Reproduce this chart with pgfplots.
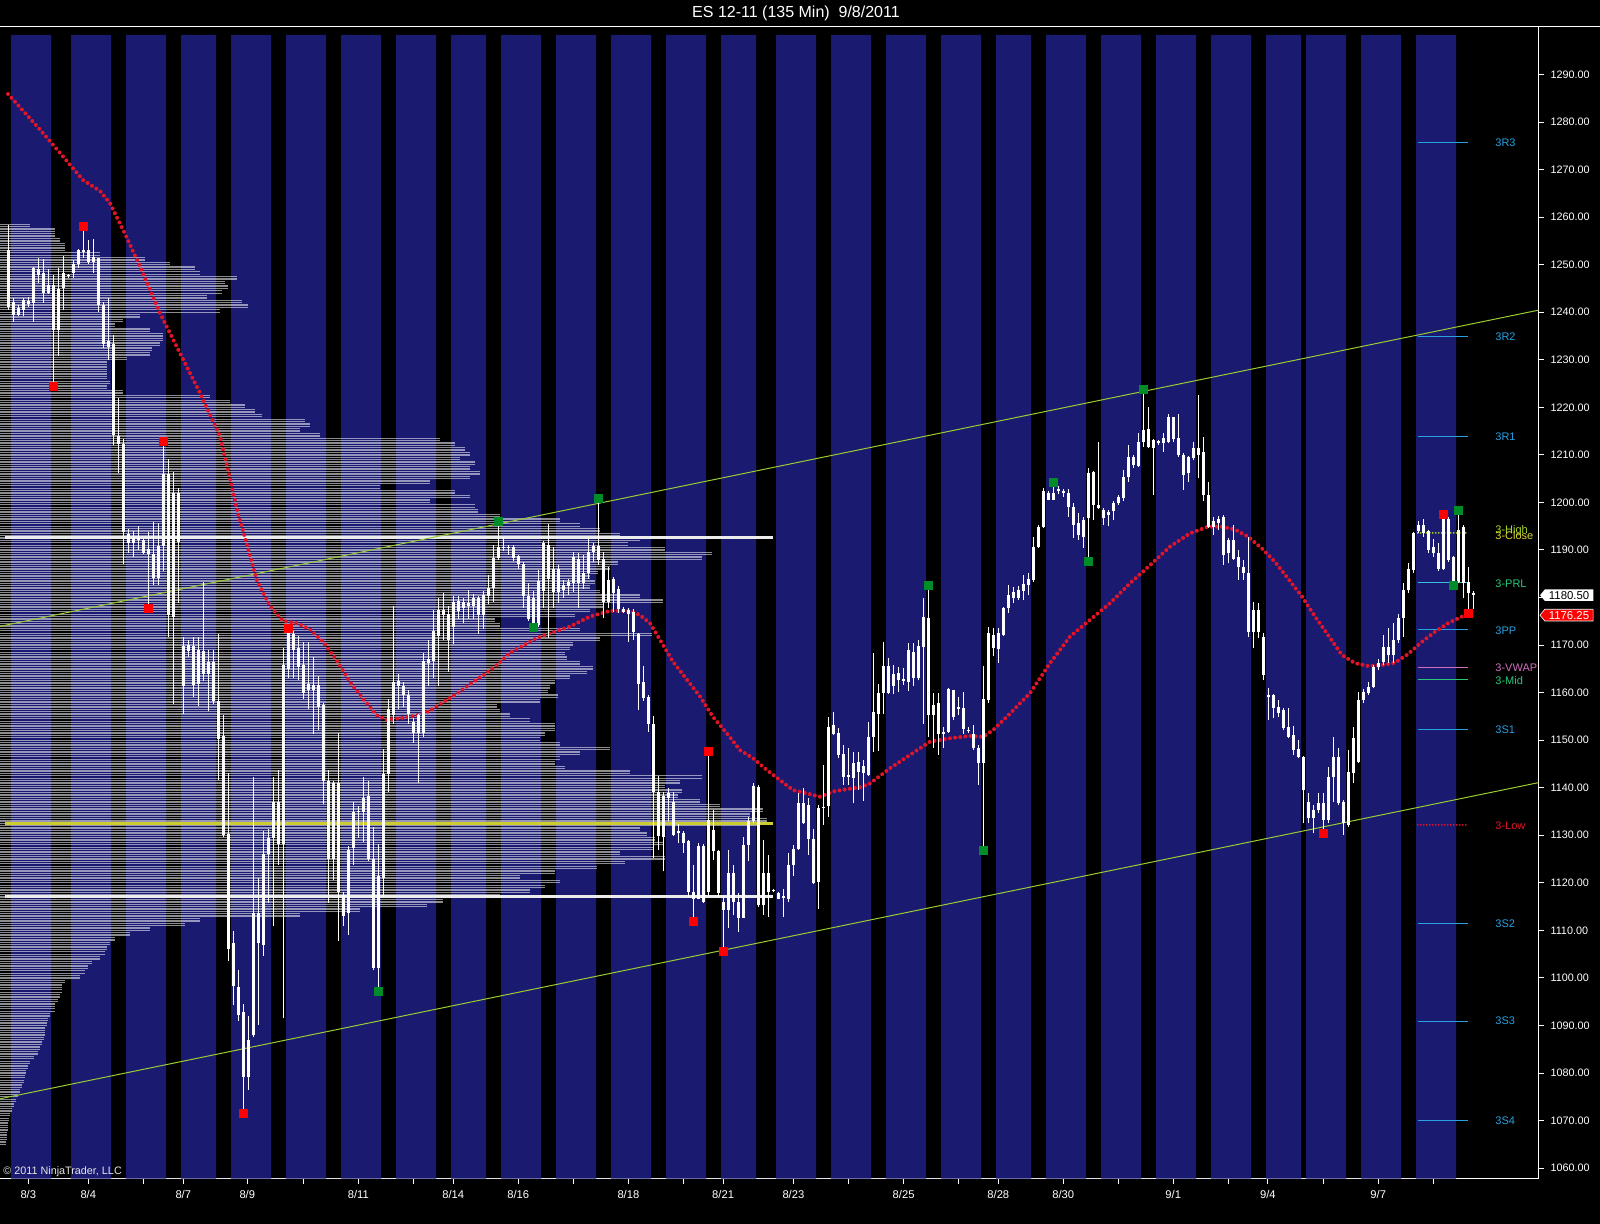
\documentclass[border=0pt]{standalone}
\usepackage{pgfplots}
\pgfplotsset{compat=1.18}
\usepackage{pgfplotstable}
\usepackage{fontspec}
\setmainfont{Liberation Sans}
\usetikzlibrary{shapes.symbols}
\pgfdeclarelayer{bg}
\pgfsetlayers{bg,main}

\definecolor{session}{RGB}{26,26,112}
\definecolor{chan}{RGB}{154,205,50}
\definecolor{marad}{RGB}{225,20,40}
\definecolor{lvlyel}{RGB}{205,205,50}
\definecolor{pivblue}{RGB}{40,160,225}
\definecolor{pivcyan}{RGB}{60,190,220}
\definecolor{pivgreen}{RGB}{40,200,120}
\definecolor{pivpink}{RGB}{210,110,190}
\definecolor{hiyel}{RGB}{170,215,40}
\definecolor{closeyel}{RGB}{215,215,50}
\definecolor{swgreen}{RGB}{0,140,40}

% session shading: start of each session, end of it
\pgfplotstableread{
x v
11 1298.3
51 1057.78
71 1298.3
111 1057.78
126 1298.3
166 1057.78
181 1298.3
216 1057.78
231 1298.3
271 1057.78
286 1298.3
326 1057.78
341 1298.3
381 1057.78
396 1298.3
436 1057.78
451 1298.3
486 1057.78
501 1298.3
541 1057.78
556 1298.3
596 1057.78
611 1298.3
651 1057.78
666 1298.3
706 1057.78
721 1298.3
756 1057.78
776 1298.3
816 1057.78
831 1298.3
871 1057.78
886 1298.3
926 1057.78
941 1298.3
981 1057.78
996 1298.3
1031 1057.78
1046 1298.3
1086 1057.78
1101 1298.3
1141 1057.78
1156 1298.3
1196 1057.78
1211 1298.3
1251 1057.78
1266 1298.3
1301 1057.78
1306 1298.3
1346 1057.78
1361 1298.3
1401 1057.78
1416 1298.3
1456 1057.78
}\sessions

% volume profile: price level, right end of the bar
\pgfplotstableread{
p w
1258 30
1257 55
1256 55
1255 60
1254 65
1253 65
1252 100
1251 145
1250 170
1249 195
1248 200
1247 237
1246 225
1245 228
1244 222
1243 207
1242 242
1241 248
1240 220
1239 140
1238 123
1237 115
1236 150
1235 163
1234 163
1233 160
1232 152
1231 150
1230 127
1229 107
1228 107
1227 107
1226 107
1225 110
1224 107
1223 123
1222 210
1221 230
1220 245
1219 255
1218 262
1217 305
1216 310
1215 300
1214 320
1213 440
1212 455
1211 465
1210 470
1209 460
1208 475
1207 470
1206 480
1205 470
1204 430
1203 380
1202 455
1201 470
1200 430
1199 475
1198 478
1197 500
1196 560
1195 580
1194 600
1193 620
1192 640
1191 628
1190 665
1189 712
1188 702
1187 618
1186 610
1185 598
1184 590
1183 595
1182 590
1181 600
1180 640
1179 663
1178 603
1177 590
1176 575
1175 495
1174 500
1173 580
1172 652
1171 600
1170 573
1169 570
1168 565
1167 567
1166 580
1165 593
1164 587
1163 570
1162 555
1161 550
1160 548
1159 558
1158 540
1157 497
1156 500
1155 510
1154 530
1153 555
1152 555
1151 545
1150 540
1149 560
1148 610
1147 580
1146 560
1145 555
1144 565
1143 630
1142 702
1141 680
1140 665
1139 682
1138 678
1137 700
1136 720
1135 763
1134 750
1133 767
1132 760
1131 640
1130 647
1129 655
1128 663
1127 653
1126 620
1125 665
1124 625
1123 597
1122 555
1121 520
1120 560
1119 545
1118 530
1117 500
1116 443
1115 427
1114 360
1113 300
1112 200
1111 185
1110 150
1109 130
1108 115
1107 110
1106 107
1105 105
1104 100
1103 92
1102 88
1101 85
1100 80
1099 65
1098 62
1097 62
1096 60
1095 58
1094 55
1093 55
1092 50
1091 48
1090 47
1089 45
1088 45
1087 44
1086 42
1085 40
1084 38
1083 34
1082 30
1081 28
1080 26
1079 25
1078 24
1077 22
1076 20
1075 18
1074 16
1073 14
1072 12
1071 10
1070 9
1069 8
1068 8
1067 7
1066 7
1065 6
}\profile

% 135 min bars: index, open, high, low, close
\pgfplotstableread{
i o h l c
0 1253.1 1258.3 1240.5 1241.2
1 1242.2 1242.9 1238.0 1239.4
2 1239.4 1241.5 1239.1 1240.8
3 1240.5 1242.9 1239.1 1242.6
4 1242.4 1243.3 1241.2 1241.7
5 1241.9 1249.6 1238.0 1249.4
6 1249.0 1251.5 1246.1 1247.8
7 1248.2 1251.2 1242.0 1244.0
8 1244.0 1249.0 1243.8 1245.7
9 1245.7 1247.8 1224.3 1236.3
10 1236.3 1249.4 1230.7 1244.8
11 1245.0 1251.8 1240.5 1248.2
12 1247.6 1248.0 1247.3 1247.8
13 1248.2 1251.0 1247.3 1250.1
14 1250.1 1253.4 1249.2 1253.0
15 1252.7 1258.1 1251.3 1253.1
16 1253.1 1255.2 1250.1 1250.6
17 1250.6 1255.5 1248.2 1251.7
18 1251.3 1251.5 1240.1 1241.5
19 1241.5 1242.2 1232.4 1233.4
20 1232.7 1242.9 1230.0 1234.0
21 1233.4 1235.3 1212.1 1214.1
22 1213.9 1222.0 1206.1 1212.3
23 1212.3 1213.3 1187.0 1193.8
24 1193.3 1194.5 1189.4 1191.4
25 1191.4 1194.0 1188.5 1192.6
26 1192.6 1195.0 1190.0 1192.0
27 1192.0 1192.3 1189.2 1189.4
28 1189.2 1193.8 1177.8 1190.1
29 1189.2 1195.9 1182.7 1184.1
30 1184.1 1195.7 1182.7 1190.9
31 1190.9 1212.9 1185.6 1205.9
32 1205.9 1209.2 1171.8 1176.4
33 1175.9 1206.5 1157.6 1202.0
34 1202.0 1203.0 1178.8 1191.7
35 1169.8 1171.6 1155.6 1161.4
36 1168.7 1171.0 1167.5 1170.1
37 1161.7 1171.8 1159.0 1169.8
38 1169.0 1171.6 1157.1 1161.9
39 1164.0 1183.2 1162.4 1168.7
40 1166.5 1168.9 1156.1 1164.0
41 1166.5 1168.9 1157.6 1158.3
42 1158.3 1172.3 1141.6 1150.3
43 1150.8 1155.3 1129.6 1130.0
44 1130.2 1143.1 1103.5 1106.1
45 1107.4 1109.8 1094.3 1098.2
46 1098.1 1101.6 1091.0 1092.3
47 1092.8 1094.5 1071.5 1079.1
48 1079.1 1091.9 1076.4 1087.0
49 1087.9 1142.3 1087.6 1113.6
50 1113.6 1121.1 1090.1 1107.4
51 1107.0 1130.8 1104.7 1126.0
52 1126.0 1131.3 1115.8 1129.5
53 1129.5 1142.3 1110.9 1137.0
54 1137.0 1143.7 1123.7 1128.2
55 1128.2 1169.3 1091.5 1165.8
56 1164.9 1173.5 1163.1 1172.9
57 1172.4 1172.9 1163.1 1168.9
58 1169.3 1172.0 1162.7 1165.3
59 1165.8 1170.6 1158.7 1160.0
60 1161.8 1170.6 1156.5 1160.5
61 1161.5 1167.5 1151.2 1160.5
62 1161.5 1163.6 1152.1 1157.0
63 1157.4 1157.8 1136.6 1141.4
64 1141.4 1143.7 1115.8 1125.1
65 1125.1 1141.4 1120.6 1141.0
66 1141.0 1151.6 1107.8 1118.0
67 1117.5 1118.0 1110.9 1113.1
68 1113.6 1127.7 1109.1 1126.8
69 1127.3 1137.0 1123.7 1134.8
70 1134.8 1136.1 1129.5 1135.2
71 1134.8 1142.3 1128.6 1137.9
72 1138.3 1141.4 1124.6 1125.1
73 1125.1 1131.7 1101.6 1102.1
74 1102.1 1128.2 1097.2 1121.5
75 1121.1 1148.1 1117.1 1142.8
76 1142.8 1158.7 1139.2 1156.5
77 1155.2 1178.2 1153.4 1162.2
78 1162.4 1164.0 1156.5 1161.3
79 1161.3 1162.2 1156.9 1159.6
80 1159.6 1160.5 1153.4 1155.6
81 1153.8 1154.7 1149.4 1151.6
82 1151.6 1155.6 1141.0 1155.2
83 1151.6 1168.4 1150.7 1166.7
84 1166.2 1171.1 1161.3 1167.1
85 1166.7 1177.3 1163.1 1172.9
86 1172.0 1180.0 1161.3 1177.3
87 1176.4 1181.0 1171.1 1177.3
88 1176.6 1178.2 1164.4 1171.1
89 1173.7 1180.4 1170.2 1179.1
90 1177.1 1180.4 1175.5 1179.2
91 1177.7 1179.9 1174.6 1179.0
92 1178.2 1181.5 1175.5 1178.8
93 1178.2 1180.8 1175.5 1179.8
94 1179.8 1180.4 1172.4 1176.4
95 1176.4 1181.3 1173.3 1180.6
96 1180.4 1184.8 1178.6 1181.9
97 1181.9 1191.0 1179.1 1188.3
98 1188.3 1196.0 1187.9 1190.7
99 1190.7 1192.8 1189.7 1190.4
100 1190.4 1191.0 1189.0 1190.7
101 1190.7 1191.0 1187.6 1188.3
102 1188.8 1189.0 1186.1 1187.0
103 1187.0 1187.5 1177.7 1180.4
104 1180.4 1183.0 1175.1 1175.5
105 1174.2 1181.3 1173.3 1180.0
106 1174.2 1185.7 1173.7 1183.5
107 1181.3 1191.9 1177.7 1191.4
108 1184.0 1195.4 1171.5 1191.0
109 1186.1 1190.7 1177.7 1181.2
110 1181.2 1186.8 1178.8 1186.1
111 1182.6 1183.7 1179.8 1181.6
112 1182.4 1183.8 1180.5 1183.3
113 1183.1 1189.6 1181.2 1188.5
114 1188.2 1189.3 1177.7 1183.1
115 1183.1 1188.9 1181.7 1185.1
116 1185.1 1192.8 1184.0 1189.6
117 1189.6 1191.5 1187.5 1190.8
118 1190.8 1200.9 1186.8 1187.9
119 1188.0 1189.6 1175.6 1179.1
120 1179.1 1186.5 1177.7 1183.7
121 1183.8 1184.3 1177.0 1180.9
122 1181.7 1182.4 1176.8 1177.5
123 1177.5 1178.0 1176.7 1177.0
124 1177.4 1177.8 1170.7 1176.5
125 1177.0 1177.6 1171.1 1172.8
126 1172.3 1172.6 1156.3 1161.8
127 1162.3 1165.6 1158.3 1158.8
128 1159.1 1159.4 1151.8 1153.4
129 1153.5 1155.1 1125.2 1139.2
130 1139.2 1142.5 1126.9 1129.9
131 1129.6 1139.0 1122.4 1138.3
132 1138.8 1139.9 1132.9 1137.8
133 1137.1 1139.2 1129.8 1130.1
134 1130.8 1132.4 1128.3 1130.4
135 1130.5 1131.0 1126.3 1128.4
136 1128.7 1129.1 1117.1 1118.1
137 1118.1 1123.7 1111.8 1116.7
138 1116.7 1128.3 1116.5 1127.7
139 1127.7 1128.1 1115.8 1116.0
140 1118.1 1147.6 1117.4 1133.2
141 1131.1 1135.3 1124.8 1126.6
142 1126.6 1127.0 1117.1 1117.9
143 1116.0 1117.1 1105.5 1114.3
144 1114.3 1126.9 1110.4 1122.0
145 1122.0 1123.7 1113.2 1116.0
146 1116.0 1117.8 1109.7 1112.7
147 1112.7 1129.7 1112.5 1128.0
148 1128.0 1133.9 1124.5 1132.9
149 1132.9 1140.9 1132.5 1140.4
150 1140.2 1140.6 1115.0 1115.3
151 1115.3 1129.0 1113.2 1122.0
152 1122.1 1125.8 1112.9 1118.1
153 1118.5 1118.8 1118.0 1118.2
154 1117.9 1118.1 1116.5 1116.7
155 1116.8 1118.8 1112.9 1117.2
156 1116.7 1126.2 1116.0 1123.7
157 1123.7 1128.0 1121.4 1127.2
158 1127.2 1138.8 1127.0 1136.7
159 1136.7 1139.9 1132.3 1132.5
160 1136.4 1137.8 1125.9 1129.3
161 1129.3 1131.4 1119.7 1119.9
162 1120.2 1136.4 1114.6 1135.7
163 1135.7 1144.8 1132.2 1136.0
164 1136.2 1154.8 1133.9 1152.7
165 1151.4 1156.0 1151.0 1153.2
166 1151.6 1152.5 1146.2 1146.9
167 1147.1 1149.0 1140.6 1142.3
168 1142.3 1148.3 1140.6 1142.7
169 1142.0 1147.6 1136.7 1145.3
170 1145.5 1147.5 1139.5 1143.4
171 1143.0 1145.9 1137.3 1144.6
172 1142.7 1153.9 1142.4 1150.7
173 1150.7 1168.3 1147.6 1156.0
174 1155.6 1161.8 1147.8 1159.9
175 1159.9 1170.7 1155.6 1165.6
176 1165.6 1167.2 1159.7 1159.9
177 1161.3 1165.8 1159.7 1163.9
178 1164.1 1165.4 1160.2 1162.7
179 1162.8 1165.1 1161.6 1162.4
180 1162.3 1170.4 1160.4 1169.0
181 1168.6 1170.4 1161.4 1163.0
182 1163.0 1171.1 1162.6 1169.8
183 1169.7 1179.8 1153.5 1175.8
184 1175.6 1182.6 1150.7 1155.3
185 1155.3 1159.9 1148.3 1157.4
186 1157.8 1159.9 1146.9 1151.4
187 1151.7 1152.8 1148.3 1151.3
188 1151.8 1160.9 1151.5 1160.7
189 1160.5 1160.6 1154.2 1154.8
190 1156.6 1159.1 1155.3 1156.9
191 1156.7 1160.2 1151.4 1152.3
192 1152.2 1152.8 1151.5 1151.9
193 1151.4 1153.2 1148.0 1148.3
194 1148.3 1149.0 1140.6 1145.1
195 1145.1 1165.5 1126.9 1158.6
196 1158.4 1173.9 1157.8 1172.5
197 1172.1 1173.5 1167.6 1169.3
198 1169.1 1173.5 1166.2 1172.5
199 1172.1 1178.0 1171.9 1177.7
200 1177.7 1182.6 1176.7 1180.5
201 1179.8 1182.3 1178.9 1181.2
202 1179.8 1182.4 1179.5 1181.6
203 1181.4 1184.7 1179.5 1182.8
204 1182.6 1185.2 1180.5 1183.8
205 1183.7 1192.7 1183.3 1190.7
206 1190.7 1195.2 1190.5 1194.9
207 1194.9 1203.0 1194.6 1202.3
208 1201.9 1202.3 1200.5 1200.6
209 1200.6 1204.2 1200.5 1201.9
210 1202.3 1203.4 1201.8 1202.8
211 1202.4 1202.9 1201.2 1202.0
212 1201.9 1202.9 1197.0 1199.1
213 1199.1 1199.8 1192.5 1195.3
214 1195.6 1197.7 1192.1 1193.2
215 1192.8 1197.0 1190.4 1196.4
216 1196.7 1207.2 1187.7 1206.1
217 1206.3 1206.7 1196.3 1199.5
218 1199.5 1212.8 1198.7 1198.9
219 1198.4 1198.8 1195.3 1196.7
220 1197.9 1198.5 1195.0 1197.4
221 1198.1 1200.2 1196.3 1199.8
222 1199.8 1201.6 1199.4 1201.2
223 1200.9 1206.8 1200.4 1205.4
224 1205.4 1212.1 1204.4 1209.6
225 1209.5 1210.0 1207.2 1207.9
226 1207.7 1214.5 1207.4 1212.8
227 1212.8 1223.8 1211.7 1215.2
228 1215.4 1220.1 1211.4 1211.7
229 1213.1 1213.3 1201.6 1211.4
230 1212.9 1213.1 1212.1 1212.5
231 1212.4 1214.5 1210.7 1213.5
232 1212.8 1218.7 1212.4 1217.9
233 1217.9 1218.0 1212.8 1213.3
234 1213.5 1218.7 1209.6 1210.0
235 1210.0 1210.4 1202.6 1205.8
236 1206.1 1209.8 1204.4 1209.5
237 1209.3 1212.8 1208.9 1211.4
238 1211.4 1222.6 1205.1 1210.0
239 1210.7 1213.8 1200.2 1201.6
240 1201.6 1204.4 1194.6 1194.9
241 1196.0 1197.0 1193.2 1194.9
242 1195.6 1197.2 1194.2 1196.5
243 1197.0 1197.3 1186.8 1188.9
244 1189.3 1192.5 1187.2 1192.0
245 1192.0 1195.3 1187.9 1188.2
246 1188.6 1189.9 1183.7 1186.5
247 1186.5 1187.9 1183.7 1185.2
248 1185.2 1192.8 1171.8 1172.8
249 1172.8 1179.1 1169.3 1177.4
250 1177.4 1178.8 1171.4 1172.8
251 1171.8 1172.5 1162.7 1163.7
252 1159.5 1160.9 1154.2 1159.0
253 1159.5 1159.8 1154.6 1156.7
254 1156.9 1158.5 1154.9 1155.8
255 1156.4 1156.8 1152.2 1152.5
256 1152.8 1156.8 1150.4 1150.7
257 1151.1 1152.9 1146.9 1147.9
258 1148.1 1150.1 1146.2 1146.5
259 1146.5 1146.7 1132.5 1139.5
260 1137.1 1138.8 1132.5 1133.6
261 1135.3 1136.4 1130.4 1133.6
262 1135.3 1138.8 1134.6 1136.7
263 1136.7 1138.8 1130.4 1133.2
264 1133.2 1144.4 1132.5 1142.3
265 1142.3 1150.7 1137.1 1146.5
266 1146.5 1148.3 1136.4 1136.7
267 1137.1 1137.4 1130.1 1132.5
268 1132.2 1147.9 1131.8 1143.4
269 1143.0 1152.8 1140.9 1150.4
270 1145.5 1160.2 1145.1 1158.5
271 1158.5 1160.8 1157.8 1160.2
272 1159.9 1162.3 1159.5 1161.2
273 1161.2 1165.8 1160.9 1165.3
274 1165.3 1167.0 1164.7 1166.2
275 1166.5 1172.1 1165.8 1169.7
276 1167.9 1173.5 1166.2 1169.7
277 1167.9 1174.7 1166.3 1171.1
278 1171.1 1176.5 1170.4 1175.6
279 1175.6 1183.0 1171.8 1181.6
280 1181.6 1187.2 1180.9 1186.1
281 1185.8 1193.8 1185.2 1193.5
282 1193.9 1196.0 1193.5 1195.3
283 1195.3 1196.6 1192.8 1193.5
284 1193.9 1194.2 1189.3 1190.0
285 1190.7 1192.4 1188.6 1189.3
286 1189.3 1191.5 1185.6 1186.1
287 1186.1 1197.4 1185.8 1196.6
288 1196.6 1197.0 1187.5 1187.9
289 1188.6 1188.7 1182.6 1183.3
290 1183.3 1198.4 1183.0 1194.2
291 1194.9 1195.2 1179.8 1183.0
292 1183.3 1186.5 1176.7 1180.9
293 1180.9 1181.4 1177.5 1180.5
}\candles

\begin{document}
\begin{tikzpicture}[x=0.5pt,y=0.5pt]
\begin{axis}[
  scale only axis,
  width=769.25pt, height=576pt,
  xmin=0, xmax=1538.5, ymin=1057.78, ymax=1300.05,
  axis x line*=bottom, axis y line*=right,
  axis line style={white, line width=0.5pt},
  tick align=outside, major tick length=2.5pt,
  tick style={white, line width=0.5pt},
  xtick={28.3,88.3,143.3,183.3,247.3,303.3,358.3,413.3,453.3,518.3,573.3,628.4,683.2,723.1,793.4,848.5,903.6,958.7,998.3,1063.2,1118.6,1173.2,1228.2,1267.9,1323.2,1378.2,1433.6},
  xticklabels={8/3,8/4,,8/7,8/9,,8/11,,8/14,8/16,,8/18,,8/21,8/23,,8/25,,8/28,8/30,,9/1,,9/4,,9/7,},
  ytick={1060,1070,...,1290},
  xticklabel style={font=\fontsize{5.6}{6}\selectfont, text=white},
  yticklabel style={font=\fontsize{5.4}{6}\selectfont, text=white},
  /pgf/number format/.cd, fixed, fixed zerofill, precision=2, 1000 sep={}, assume math mode=true,
]
% sessions
\addplot[ybar interval, fill=session, draw=none] table[x=x, y=v] {\sessions};
% volume profile, one line per level and a second one half a point up
\addplot[xcomb, draw=white, draw opacity=0.55, line width=0.65pt] table[x=w, y=p] {\profile};
\addplot[xcomb, draw=white, draw opacity=0.55, line width=0.65pt] table[x=w, y expr={\thisrow{p}+0.5}] {\profile};
% value area / POC levels
\addplot[white!85!gray, line width=1.5pt] coordinates {(5,1192.7) (773,1192.7)};
\addplot[lvlyel, line width=1.5pt] coordinates {(5,1132.4) (773,1132.4)};
\addplot[white!85!gray, line width=1.5pt] coordinates {(5,1117.1) (773,1117.1)};
% channel
\addplot[chan, line width=0.5pt] coordinates {(0,1173.94) (1538.5,1240.43)};
\addplot[chan, line width=0.5pt] coordinates {(0,1074.58) (1538.5,1141.07)};
% pivots
\addplot[pivblue, line width=0.5pt] coordinates {(1417.7,1275.6) (1468.3,1275.6)};
\addplot[pivblue, line width=0.5pt] coordinates {(1417.7,1234.9) (1468.3,1234.9)};
\addplot[pivblue, line width=0.5pt] coordinates {(1417.7,1213.8) (1468.3,1213.8)};
\addplot[hiyel, line width=1pt, dash pattern=on 0pt off 1.5pt, line cap=round] coordinates {(1417.7,1193.6) (1468.3,1193.6)};
\addplot[pivcyan, line width=0.5pt] coordinates {(1417.7,1183.2) (1468.3,1183.2)};
\addplot[pivblue, line width=0.5pt] coordinates {(1417.7,1173.2) (1468.3,1173.2)};
\addplot[pivpink, line width=0.5pt] coordinates {(1417.7,1165.3) (1468.3,1165.3)};
\addplot[pivgreen, line width=0.5pt] coordinates {(1417.7,1162.8) (1468.3,1162.8)};
\addplot[pivblue, line width=0.5pt] coordinates {(1417.7,1152.3) (1468.3,1152.3)};
\addplot[marad, line width=1pt, dash pattern=on 0pt off 1.5pt, line cap=round] coordinates {(1417.7,1132.2) (1468.3,1132.2)};
\addplot[pivblue, line width=0.5pt] coordinates {(1417.7,1111.4) (1468.3,1111.4)};
\addplot[pivblue, line width=0.5pt] coordinates {(1417.7,1090.9) (1468.3,1090.9)};
\addplot[pivblue, line width=0.5pt] coordinates {(1417.7,1070.0) (1468.3,1070.0)};
% moving average
\addplot[marad, line width=2pt, dash pattern=on 0pt off 2.6pt, line cap=round] coordinates {
(8,1285.9) (40,1278.4) (60,1273.5) (83,1267.8) (100,1265.5) (110,1262.9) (125,1256.5)
(140,1249.6) (160,1239.8) (180,1231.4) (200,1223.0) (220,1213.9) (230,1205.0) (238,1197.6)
(243,1194.1) (257,1183.5) (270,1178.2) (283,1175.1) (297,1174.6) (310,1173.3) (323,1170.7)
(337,1166.7) (350,1162.2) (363,1158.7) (377,1155.2) (387,1154.3) (403,1154.7) (417,1155.2)
(430,1156.2) (443,1158.0) (457,1159.8) (470,1161.8) (483,1163.6) (497,1165.8) (510,1168.4)
(523,1169.9) (537,1171.5) (550,1172.5) (570,1173.9) (590,1176.0) (610,1177.2) (630,1177.2)
(640,1176.3) (650,1174.6) (660,1171.1) (673,1166.5) (687,1162.7) (700,1159.2) (713,1154.9)
(727,1151.4) (740,1147.9) (753,1146.2) (767,1143.7) (780,1141.6) (793,1139.5) (807,1138.8)
(820,1138.1) (833,1139.2) (847,1139.7) (860,1140.1) (870,1140.9) (890,1144.1) (910,1146.9)
(930,1149.7) (950,1150.4) (970,1150.9) (983,1150.7) (993,1152.1) (1010,1155.6) (1030,1159.9)
(1050,1166.2) (1070,1171.8) (1090,1175.3) (1110,1178.8) (1130,1183.0) (1150,1186.8)
(1170,1190.7) (1190,1193.5) (1208,1194.9) (1222,1194.9) (1235,1194.3) (1248,1192.8)
(1262,1190.3) (1275,1187.5) (1288,1184.0) (1302,1180.2) (1315,1176.0) (1328,1172.1)
(1342,1167.9) (1355,1166.2) (1368,1165.6) (1382,1165.8) (1395,1166.3) (1408,1168.1)
(1422,1170.7) (1435,1172.8) (1448,1174.6) (1462,1176.0) (1468,1176.7)};
% candles: wicks, then bodies
\addplot[draw=none, mark=none,
  error bars/.cd, y dir=plus, y explicit, error mark=none,
  error bar style={draw=white, line width=0.5pt}]
  table[x expr={8.37+5*\thisrow{i}}, y=l, y error expr={\thisrow{h}-\thisrow{l}}] {\candles};
\addplot[draw=none, mark=none,
  error bars/.cd, y dir=plus, y explicit, error mark=none,
  error bar style={draw=white, line width=1.5pt}]
  table[x expr={8.37+5*\thisrow{i}}, y expr={min(\thisrow{o},\thisrow{c})},
        y error expr={abs(\thisrow{c}-\thisrow{o})}] {\candles};
% swing highs / lows
\addplot[only marks, mark=square*, mark size=2pt, mark options={draw=red, fill=red, rounded corners=0.8pt}]
  coordinates {(83.4,1258.1) (53.4,1224.3) (163.4,1212.9) (148.4,1177.8) (243.4,1071.5) (288.4,1173.5)
  (693.4,1111.8) (708.4,1147.6) (723.4,1105.5) (1323.4,1130.4) (1443.4,1197.4) (1468.4,1176.7)};
\addplot[only marks, mark=square*, mark size=2pt, mark options={draw=swgreen, fill=swgreen, rounded corners=0.8pt}]
  coordinates {(378.4,1097.2) (498.4,1196.0) (533.4,1173.7) (598.4,1200.9) (928.4,1182.6) (983.4,1126.9)
  (1053.4,1204.2) (1088.4,1187.7) (1143.4,1223.8) (1453.4,1182.6) (1458.4,1198.4)};
% pivot labels
\begin{scope}[every node/.style={anchor=west, inner sep=0pt, font=\fontsize{5.5}{6}\selectfont}]
\node[text=pivblue] at (axis cs:1495,1275.6) {3R3};
\node[text=pivblue] at (axis cs:1495,1234.9) {3R2};
\node[text=pivblue] at (axis cs:1495,1213.8) {3R1};
\node[text=hiyel] at (axis cs:1495,1194.0) {3-High};
\node[text=closeyel] at (axis cs:1495,1193.1) {3-Close};
\node[text=pivgreen] at (axis cs:1495,1183.0) {3-PRL};
\node[text=pivblue] at (axis cs:1495,1173.0) {3PP};
\node[text=pivpink] at (axis cs:1495,1165.3) {3-VWAP};
\node[text=pivgreen] at (axis cs:1495,1162.6) {3-Mid};
\node[text=pivblue] at (axis cs:1495,1152.3) {3S1};
\node[text=marad] at (axis cs:1495,1132.1) {3-Low};
\node[text=pivblue] at (axis cs:1495,1111.4) {3S2};
\node[text=pivblue] at (axis cs:1495,1090.9) {3S3};
\node[text=pivblue] at (axis cs:1495,1070.0) {3S4};
\end{scope}
\coordinate (O) at (rel axis cs:0,0);
\coordinate (lastp) at (axis cs:1539.5,1180.5);
\coordinate (lowp) at (axis cs:1539.5,1176.3);
\end{axis}
% price tags on the scale
\node[signal, signal to=west, signal pointer angle=100, fill=white, text=black,
  font=\fontsize{5.7}{6}\selectfont, inner xsep=2pt, inner ysep=0.9pt, anchor=west] at (lastp) {1180.50};
\node[signal, signal to=west, signal pointer angle=100, fill=red, draw=white, line width=0.3pt, text=white,
  font=\fontsize{5.7}{6}\selectfont, inner xsep=2pt, inner ysep=0.9pt, anchor=west] at (lowp) {1176.25};
% page, title and frame, placed from the axis corner
\begin{scope}[shift={(O)}, yshift=-22.65pt]
\begin{pgfonlayer}{bg}
\fill[black] (0,0) rectangle (1600,1224);
\end{pgfonlayer}
\node[text=white, font=\fontsize{8}{9}\selectfont] at (796,1210.7) {ES 12-11 (135 Min)~~9/8/2011};
\draw[white, line width=0.5pt] (0,1197.3) -- (1600,1197.3);
\node[anchor=west, inner sep=0pt, text=white!80!gray, font=\fontsize{5.4}{6}\selectfont] at (3,52.3) {© 2011 NinjaTrader, LLC};
\pgfresetboundingbox
\path (0,0) rectangle (1600,1224);
\end{scope}
\end{tikzpicture}
\end{document}
